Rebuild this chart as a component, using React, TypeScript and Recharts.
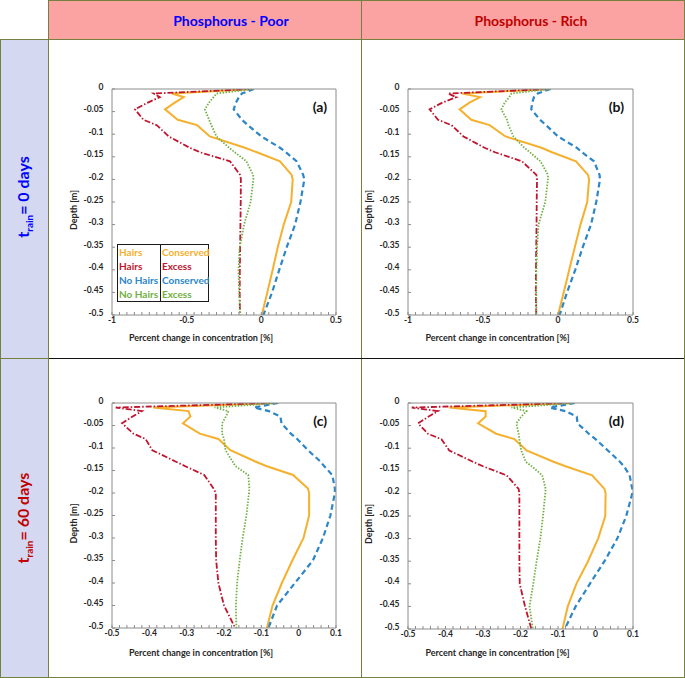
import React from 'react'
import { LineChart, Line, XAxis, YAxis, Legend } from 'recharts'

const FONT = 'Lato, "Liberation Sans", sans-serif'
const OLIVE = '#76803f'
const PINK = '#fba3a3'
const LAVENDER = '#d4d8f1'
const AXIS = '#8c8c8c'
const TICK = '#262626'

// depth of the profile nodes [m]
const depth = [0, -0.01, -0.018, -0.03, -0.045, -0.068, -0.08, -0.105, -0.13, -0.14, -0.16, -0.19, -0.2, -0.25, -0.3, -0.35, -0.4, -0.45, -0.5]

// (a) phosphorus poor, t_rain = 0 days
const hairsConservedA = [-0.05, -0.6, -0.52, -0.58, -0.645, -0.56, -0.43, -0.345, -0.11, -0.03, 0.125, 0.203, 0.21, 0.2, 0.15, 0.11, 0.076, 0.04, 0.003]
const hairsExcessA = [-0.05, -0.72, -0.68, -0.76, -0.846, -0.79, -0.7, -0.62, -0.48, -0.41, -0.21, -0.142, -0.137, -0.138, -0.14, -0.142, -0.144, -0.145, -0.143]
const noHairsConservedA = [-0.05, -0.13, -0.15, -0.17, -0.185, -0.13, -0.09, 0.0, 0.125, 0.165, 0.237, 0.28, 0.288, 0.262, 0.226, 0.17, 0.12, 0.072, 0.014]
const noHairsExcessA = [-0.05, -0.3, -0.32, -0.35, -0.378, -0.35, -0.335, -0.3, -0.215, -0.178, -0.1, -0.055, -0.053, -0.072, -0.115, -0.145, -0.153, -0.148, -0.142]

// (b) phosphorus rich, t_rain = 0 days
const hairsConservedB = [-0.05, -0.64, -0.52, -0.59, -0.656, -0.578, -0.456, -0.35, -0.11, -0.04, 0.12, 0.2, 0.207, 0.195, 0.15, 0.112, 0.075, 0.038, 0.0]
const hairsExcessB = [-0.05, -0.733, -0.678, -0.77, -0.856, -0.8, -0.71, -0.63, -0.49, -0.42, -0.24, -0.144, -0.14, -0.142, -0.143, -0.145, -0.147, -0.148, -0.145]
const noHairsConservedB = [-0.05, -0.135, -0.16, -0.172, -0.178, -0.12, -0.08, 0.0, 0.125, 0.16, 0.24, 0.277, 0.28, 0.255, 0.22, 0.165, 0.115, 0.06, 0.011]
const noHairsExcessB = [-0.05, -0.31, -0.325, -0.355, -0.378, -0.34, -0.33, -0.297, -0.225, -0.187, -0.117, -0.067, -0.067, -0.085, -0.13, -0.14, -0.144, -0.145, -0.144]

// (c) phosphorus poor, t_rain = 60 days
const hairsConservedC = [-0.055, -0.39, -0.295, -0.29, -0.31, -0.265, -0.215, -0.183, -0.116, -0.087, -0.015, 0.025, 0.028, 0.028, 0.013, -0.017, -0.045, -0.07, -0.085]
const hairsExcessC = [-0.055, -0.49, -0.42, -0.445, -0.473, -0.443, -0.41, -0.392, -0.33, -0.305, -0.253, -0.228, -0.222, -0.222, -0.222, -0.221, -0.215, -0.2, -0.17]
const noHairsConservedC = [-0.055, -0.12, -0.08, -0.049, -0.046, -0.021, -0.004, 0.025, 0.058, 0.068, 0.09, 0.097, 0.097, 0.085, 0.065, 0.038, -0.01, -0.058, -0.081]
const noHairsExcessC = [-0.055, -0.225, -0.188, -0.195, -0.205, -0.205, -0.2, -0.196, -0.177, -0.17, -0.135, -0.132, -0.133, -0.14, -0.15, -0.158, -0.165, -0.168, -0.167]

// (d) phosphorus rich, t_rain = 60 days
const hairsConservedD = [-0.055, -0.39, -0.293, -0.293, -0.313, -0.265, -0.216, -0.184, -0.112, -0.08, -0.009, 0.024, 0.027, 0.026, 0.007, -0.02, -0.051, -0.074, -0.088]
const hairsExcessD = [-0.055, -0.49, -0.42, -0.445, -0.473, -0.447, -0.411, -0.39, -0.327, -0.3, -0.237, -0.205, -0.203, -0.203, -0.203, -0.203, -0.202, -0.188, -0.171]
const noHairsConservedD = [-0.055, -0.122, -0.08, -0.05, -0.048, -0.018, 0.0, 0.033, 0.065, 0.076, 0.091, 0.098, 0.098, 0.082, 0.058, 0.024, -0.015, -0.053, -0.082]
const noHairsExcessD = [-0.055, -0.224, -0.184, -0.198, -0.211, -0.205, -0.203, -0.198, -0.186, -0.17, -0.142, -0.133, -0.134, -0.14, -0.147, -0.157, -0.166, -0.176, -0.167]

const depthTicks = [0, -0.05, -0.1, -0.15, -0.2, -0.25, -0.3, -0.35, -0.4, -0.45, -0.5]
const xMajorsTop = [-1, -0.5, 0, 0.5]
const xMajorsBottom = [-0.5, -0.4, -0.3, -0.2, -0.1, 0, 0.1]

const seriesKeys = ['hc', 'he', 'nc', 'ne']
const seriesNames = ['Hairs Conserved', 'Hairs Excess', 'No Hairs Conserved', 'No Hairs Excess']
const legendLeft = ['Hairs', 'Hairs', 'No Hairs', 'No Hairs']
const legendRight = ['Conserved', 'Excess', 'Conserved', 'Excess']
const colors = ['#f5b02e', '#c0152f', '#2c86c8', '#72b043']
const dashes = [undefined, '6 2 1.5 2', '5.5 3.5', '1.5 1.5']
const widths = [2, 1.8, 2.2, 1.8]

// minor tick positions along the x axis
const minorTicks = (lo: number, hi: number, step: number) => {
  const n = Math.round((hi - lo) / step)
  return Array.from({ length: n + 1 }, (_, i) => +(lo + i * step).toFixed(3))
}

const buildRows = (hc: number[], he: number[], nc: number[], ne: number[]) =>
  depth.map((d, i) => ({ depth: d, hc: hc[i], he: he[i], nc: nc[i], ne: ne[i] }))

const DepthTick = ({ x, y, payload }: any) => (
  <text x={x} y={y - 2.5} textAnchor="end" dominantBaseline="central" fontSize={8.5} fontWeight={700} fill={TICK} fontFamily={FONT}>
    {payload.value}
  </text>
)

const makeXTick = (majors: number[]) => ({ x, y, payload }: any) => {
  const m = majors.find((v) => Math.abs(v - payload.value) < 1e-6)
  if (m === undefined) return <g />
  return (
    <text x={x} y={y} dy="0.71em" textAnchor="middle" fontSize={8.5} fontWeight={700} fill={TICK} fontFamily={FONT}>
      {String(m)}
    </text>
  )
}

const LegendTable = ({ payload }: any) => {
  const items = (payload || []).map((p: any) => ({ i: seriesNames.indexOf(p.value), color: p.color }))
  const col = (labels: string[], extra: any) => (
    <div style={{ padding: '0 1px', ...extra }}>
      {items.map((it: any) => (
        <div key={it.i} style={{ color: it.color, height: 14, lineHeight: '14px' }}>{labels[it.i]}</div>
      ))}
    </div>
  )
  return (
    <div style={{ display: 'flex', border: '1.5px solid #1a1a1a', fontFamily: FONT, fontWeight: 700, fontSize: 10, whiteSpace: 'nowrap' }}>
      {col(legendLeft, { width: 40, borderRight: '1.5px solid #1a1a1a' })}
      {col(legendRight, { width: 45 })}
    </div>
  )
}

interface PanelProps {
  rows: any[]
  tag: string
  width: number
  height: number
  margin: { top: number; right: number; bottom: number; left: number }
  domain: [number, number]
  majors: number[]
  step: number
  yTitleX: number
  xTitleGap: number
  legend?: boolean
}

function Panel({ rows, tag, width, height, margin, domain, majors, step, yTitleX, xTitleGap, legend }: PanelProps) {
  const minors = minorTicks(domain[0], domain[1], step)
  return (
    <LineChart layout="vertical" width={width} height={height} data={rows} margin={margin}>
      <XAxis
        type="number"
        domain={domain}
        allowDataOverflow
        ticks={minors}
        interval={0}
        tick={makeXTick(majors)}
        tickSize={-3}
        tickMargin={4.5}
        height={25}
        axisLine={{ stroke: AXIS }}
        tickLine={{ stroke: AXIS }}
        label={{
          content: ({ viewBox }: any) => (
            <text x={viewBox.x + viewBox.width / 2 - 23} y={viewBox.y + xTitleGap} textAnchor="middle" dominantBaseline="central" fontSize={9} fontWeight={700} fill={TICK} fontFamily={FONT}>
              Percent change in concentration [%]
            </text>
          ),
        }}
      />
      <XAxis
        xAxisId="top"
        orientation="top"
        type="number"
        domain={domain}
        allowDataOverflow
        ticks={minors}
        interval={0}
        tick={false}
        tickSize={-2.5}
        height={1}
        axisLine={{ stroke: AXIS }}
        tickLine={{ stroke: AXIS }}
        label={{
          content: ({ viewBox }: any) => (
            <text x={viewBox.x + viewBox.width - 9} y={viewBox.y + 18} textAnchor="end" dominantBaseline="central" fontSize={14} fontWeight={700} fill="#111" fontFamily={FONT}>
              {tag}
            </text>
          ),
        }}
      />
      <YAxis
        type="number"
        dataKey="depth"
        domain={[-0.5, 0]}
        reversed
        allowDataOverflow
        ticks={depthTicks}
        interval={0}
        tick={DepthTick}
        tickSize={-3}
        tickMargin={11.5}
        width={40}
        axisLine={{ stroke: AXIS }}
        tickLine={{ stroke: AXIS }}
        label={{
          content: ({ viewBox }: any) => {
            const cy = viewBox.y + viewBox.height / 2 + 8
            return (
              <text x={yTitleX} y={cy} transform={`rotate(-90 ${yTitleX} ${cy})`} textAnchor="middle" dominantBaseline="central" fontSize={9} fontWeight={700} fill={TICK} fontFamily={FONT}>
                Depth [m]
              </text>
            )
          },
        }}
      />
      <YAxis
        yAxisId="right"
        orientation="right"
        type="number"
        domain={[-0.5, 0]}
        allowDataOverflow
        ticks={depthTicks}
        interval={0}
        tick={false}
        tickSize={-3}
        width={1}
        axisLine={{ stroke: AXIS }}
        tickLine={{ stroke: AXIS }}
      />
      {seriesKeys.map((k, i) => (
        <Line
          key={k}
          type="linear"
          dataKey={k}
          name={seriesNames[i]}
          stroke={colors[i]}
          strokeWidth={widths[i]}
          strokeDasharray={dashes[i]}
          dot={false}
          activeDot={false}
          isAnimationActive={false}
        />
      ))}
      {legend && (
        <Legend
          layout="vertical"
          align="center"
          verticalAlign="middle"
          content={LegendTable}
          wrapperStyle={{ left: 69, top: 205, width: 'auto' }}
        />
      )}
    </LineChart>
  )
}

const box = (left: number, top: number, width: number, height: number, bg: string): React.CSSProperties => ({
  position: 'absolute',
  left,
  top,
  width,
  height,
  background: bg,
  border: `1.5px solid ${OLIVE}`,
  boxSizing: 'border-box',
})

const place = (left: number, top: number): React.CSSProperties => ({ position: 'absolute', left, top })

export default function App() {
  return (
    <div style={{ position: 'absolute', left: 0, top: 0, width: 685, height: 678, background: '#fff', fontFamily: FONT, overflow: 'hidden' }}>
      <div style={box(47.5, 0, 314.5, 40, PINK)} />
      <div style={box(360.5, 0, 324.5, 40, PINK)} />
      <div style={box(0, 38.5, 49, 321, LAVENDER)} />
      <div style={box(0, 357.5, 49, 320.5, LAVENDER)} />
      <div style={box(47.5, 38.5, 314.5, 321, '#fff')} />
      <div style={box(360.5, 38.5, 324.5, 321, '#fff')} />
      <div style={box(47.5, 357.5, 314.5, 320.5, '#fff')} />
      <div style={box(360.5, 357.5, 324.5, 320.5, '#fff')} />
      <div style={{ position: 'absolute', left: 49, top: 357.5, width: 635, height: 1.5, background: '#111' }} />

      <div style={{ position: 'absolute', left: 231, top: 19.5, transform: 'translate(-50%, -50%)', color: '#0000ff', fontWeight: 700, fontSize: 14, whiteSpace: 'nowrap' }}>
        Phosphorus - Poor
      </div>
      <div style={{ position: 'absolute', left: 531, top: 19.5, transform: 'translate(-50%, -50%)', color: '#c00000', fontWeight: 700, fontSize: 14, whiteSpace: 'nowrap' }}>
        Phosphorus - Rich
      </div>
      <div style={{ position: 'absolute', left: 24, top: 197, transform: 'translate(-50%, -50%) rotate(-90deg)', color: '#0000ff', fontWeight: 700, fontSize: 16, whiteSpace: 'nowrap' }}>
        t<sub style={{ fontSize: 10 }}>rain</sub>= 0 days
      </div>
      <div style={{ position: 'absolute', left: 24, top: 518, transform: 'translate(-50%, -50%) rotate(-90deg)', color: '#c00000', fontWeight: 700, fontSize: 16, whiteSpace: 'nowrap' }}>
        t<sub style={{ fontSize: 10 }}>rain</sub>= 60 days
      </div>

      <div style={place(48, 39)}>
        <Panel rows={buildRows(hairsConservedA, hairsExcessA, noHairsConservedA, noHairsExcessA)} tag="(a)" width={313} height={319}
          margin={{ top: 49, right: 24, bottom: 18, left: 24 }} domain={[-1, 0.5]} majors={xMajorsTop} step={0.05} yTitleX={25} xTitleGap={22} legend />
      </div>
      <div style={place(361, 39)}>
        <Panel rows={buildRows(hairsConservedB, hairsExcessB, noHairsConservedB, noHairsExcessB)} tag="(b)" width={323} height={319}
          margin={{ top: 49, right: 50, bottom: 18, left: 7 }} domain={[-1, 0.5]} majors={xMajorsTop} step={0.05} yTitleX={7.5} xTitleGap={22} />
      </div>
      <div style={place(48, 358)}>
        <Panel rows={buildRows(hairsConservedC, hairsExcessC, noHairsConservedC, noHairsExcessC)} tag="(c)" width={313} height={319}
          margin={{ top: 44, right: 24, bottom: 24, left: 24 }} domain={[-0.5, 0.1]} majors={xMajorsBottom} step={0.02} yTitleX={25} xTitleGap={24} />
      </div>
      <div style={place(361, 358)}>
        <Panel rows={buildRows(hairsConservedD, hairsExcessD, noHairsConservedD, noHairsExcessD)} tag="(d)" width={323} height={319}
          margin={{ top: 44, right: 50, bottom: 23, left: 7 }} domain={[-0.5, 0.1]} majors={xMajorsBottom} step={0.02} yTitleX={7.5} xTitleGap={23} />
      </div>
    </div>
  )
}
